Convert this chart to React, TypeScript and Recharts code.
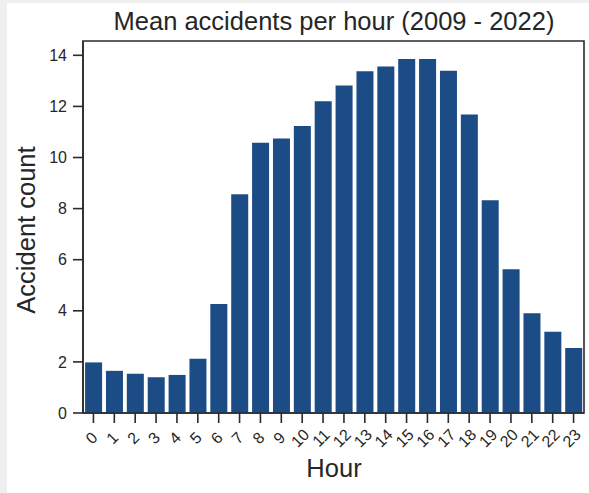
import React from 'react';
import { BarChart, Bar, XAxis, YAxis, ReferenceArea } from 'recharts';

const hours = ['0', '1', '2', '3', '4', '5', '6', '7', '8', '9', '10', '11', '12', '13', '14', '15', '16', '17', '18', '19', '20', '21', '22', '23'];
const meanAccidents = [1.98, 1.65, 1.54, 1.4, 1.49, 2.12, 4.27, 8.56, 10.58, 10.74, 11.23, 12.2, 12.82, 13.38, 13.56, 13.86, 13.86, 13.4, 11.68, 8.33, 5.63, 3.9, 3.18, 2.54];
const yTicks = [0, 2, 4, 6, 8, 10, 12, 14];

const data = hours.map((h, i) => ({ hour: h, count: meanAccidents[i] }));

const FONT = '"Liberation Sans", Arial, sans-serif';
const INK = '#262626';
const SPINE = '#2b2b2b';
const Y_MAX = 14.56;

// rotated hour labels, centred under each tick like matplotlib's rotation=45
const HourTick = ({ x, y, payload }: any) => {
  const cx = x - 2;
  const cy = y + 13;
  return (
    <text
      x={cx}
      y={cy}
      textAnchor="middle"
      dominantBaseline="central"
      transform={`rotate(-45, ${cx}, ${cy})`}
      fontSize={16}
      fontFamily={FONT}
      fill={INK}
    >
      {payload.value}
    </text>
  );
};

const App = () => {
  return (
    <div style={{ position: 'fixed', left: 0, top: 0, width: 589, height: 493, background: '#efefef' }}>
      <div style={{ position: 'absolute', left: 7, top: 3, right: 0, bottom: 0, background: '#ffffff' }} />
      <div
        style={{
          position: 'absolute',
          left: 83,
          width: 502,
          top: 7,
          textAlign: 'center',
          fontFamily: FONT,
          fontSize: 25.5,
          color: INK,
        }}
      >
        Mean accidents per hour (2009 - 2022)
      </div>
      <div style={{ position: 'absolute', left: 0, top: 0 }}>
        <BarChart
          width={589}
          height={493}
          data={data}
          margin={{ top: 41, right: 5, bottom: 0, left: 0 }}
          barCategoryGap="10%"
        >
          <XAxis
            dataKey="hour"
            height={80}
            interval={0}
            tickSize={10}
            tickMargin={2}
            tick={<HourTick />}
            axisLine={{ stroke: SPINE, strokeWidth: 1.6 }}
            tickLine={{ stroke: SPINE, strokeWidth: 1.6 }}
            label={{
              content: () => (
                <text x={334} y={468} textAnchor="middle" dominantBaseline="central" fontSize={25.5} fontFamily={FONT} fill={INK}>
                  Hour
                </text>
              ),
            }}
          />
          <YAxis
            width={83}
            domain={[0, Y_MAX]}
            ticks={yTicks}
            tickSize={10}
            tickMargin={6}
            tick={{ fontSize: 16, fontFamily: FONT, fill: INK }}
            axisLine={{ stroke: SPINE, strokeWidth: 1.6 }}
            tickLine={{ stroke: SPINE, strokeWidth: 1.6 }}
            label={{
              content: () => (
                <text
                  x={26}
                  y={230}
                  textAnchor="middle"
                  dominantBaseline="central"
                  transform="rotate(-90, 26, 230)"
                  fontSize={25.5}
                  fontFamily={FONT}
                  fill={INK}
                >
                  Accident count
                </text>
              ),
            }}
          />
          <Bar dataKey="count" fill="#1b4c85" isAnimationActive={false} />
          {/* top and right spines */}
          <ReferenceArea y1={0} y2={Y_MAX} fill="none" stroke={SPINE} strokeWidth={1.6} ifOverflow="visible" />
        </BarChart>
      </div>
    </div>
  );
};

export default App;
